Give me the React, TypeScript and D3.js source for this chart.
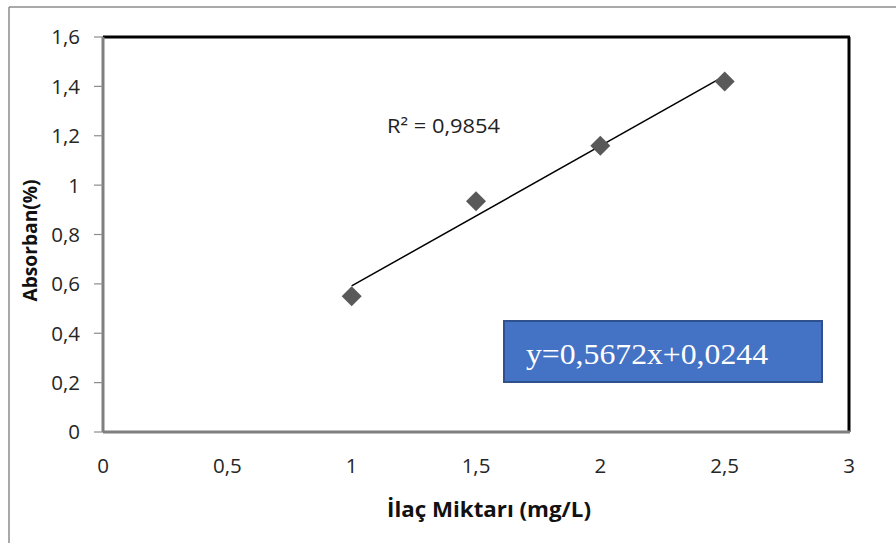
import React from "react";
import * as d3 from "d3";

const xValues = [1, 1.5, 2, 2.5];
const yValues = [0.55, 0.935, 1.16, 1.42];
const xTicks = [0, 0.5, 1, 1.5, 2, 2.5, 3];
const yTicks = [0, 0.2, 0.4, 0.6, 0.8, 1, 1.2, 1.4, 1.6];
const slope = 0.5672;
const intercept = 0.0244;
const r2Label = "R² = 0,9854";
const equationLabel = "y=0,5672x+0,0244";
const xTitle = "İlaç Miktarı (mg/L)";
const yTitle = "Absorban(%)";

const fmt = (v: number) => String(v).replace(".", ",");

export default function App() {
  const W = 896;
  const H = 543;
  const left = 103, right = 849, top = 37, bottom = 432;
  const x = d3.scaleLinear().domain([0, 3]).range([left, right]);
  const y = d3.scaleLinear().domain([0, 1.6]).range([bottom, top]);
  const fitX = [xValues[0], xValues[xValues.length - 1]];
  const line = d3.line<number>().x((d) => x(d)).y((d) => y(slope * d + intercept));
  const sans = "'Open Sans', 'Noto Sans', sans-serif";
  const dia = 10;
  return (
    <svg width={W} height={H} style={{ position: "absolute", left: 0, top: 0, background: "#fff" }}>
      <rect x={0} y={0} width={W} height={H} fill="#fff" />
      {/* outer chart border (cropped) */}
      <line x1={9} y1={7} x2={W} y2={7} stroke="#8c8c8c" strokeWidth={1.5} />
      <line x1={9} y1={7} x2={9} y2={H} stroke="#8c8c8c" strokeWidth={1.5} />
      {/* plot frame */}
      <line x1={left} y1={top} x2={right + 1} y2={top} stroke="#000" strokeWidth={3} />
      <line x1={right} y1={top} x2={right} y2={bottom} stroke="#000" strokeWidth={3} />
      <line x1={left} y1={top} x2={left} y2={bottom} stroke="#7f7f7f" strokeWidth={3} />
      <line x1={left} y1={bottom} x2={right + 1} y2={bottom} stroke="#7f7f7f" strokeWidth={3} />
      {yTicks.map((t) => (
        <g key={"y" + t}>
          <line x1={94} x2={left} y1={y(t)} y2={y(t)} stroke="#8c8c8c" strokeWidth={1.2} />
          <text x={80} y={y(t)} dy="0.36em" textAnchor="end" fontFamily={sans} fontSize={20.5} fill="#262626">
            {fmt(t)}
          </text>
        </g>
      ))}
      {xTicks.map((t) => (
        <text key={"x" + t} x={x(t)} y={466} dy="0.36em" textAnchor="middle" fontFamily={sans} fontSize={20.5} fill="#262626">
          {fmt(t)}
        </text>
      ))}
      <path d={line(fitX) || ""} fill="none" stroke="#000" strokeWidth={1.5} />
      {xValues.map((v, i) => {
        const cx = x(v), cy = y(yValues[i]);
        return (
          <path key={"p" + i} d={`M${cx},${cy - dia}L${cx + dia},${cy}L${cx},${cy + dia}L${cx - dia},${cy}Z`} fill="#595959" />
        );
      })}
      <text x={387} y={133} fontFamily={sans} fontSize={19.5} fill="#222" textLength={113} lengthAdjust="spacingAndGlyphs">
        {r2Label}
      </text>
      <rect x={504} y={321} width={318} height={61} fill="#4472C4" stroke="#2F528F" strokeWidth={2} />
      <text x={526} y={364} fontFamily="'Liberation Serif', 'Times New Roman', serif" fontSize={29} fill="#fff" textLength={242} lengthAdjust="spacingAndGlyphs">
        {equationLabel}
      </text>
      <text x={489} y={517} textAnchor="middle" fontFamily={sans} fontWeight="bold" fontSize={21} fill="#111" textLength={204} lengthAdjust="spacingAndGlyphs">
        {xTitle}
      </text>
      <text transform={`translate(37,${(top + bottom) / 2 + 6}) rotate(-90)`} textAnchor="middle" fontFamily={sans} fontWeight="bold" fontSize={19.5} fill="#111" textLength={122} lengthAdjust="spacingAndGlyphs">
        {yTitle}
      </text>
    </svg>
  );
}
